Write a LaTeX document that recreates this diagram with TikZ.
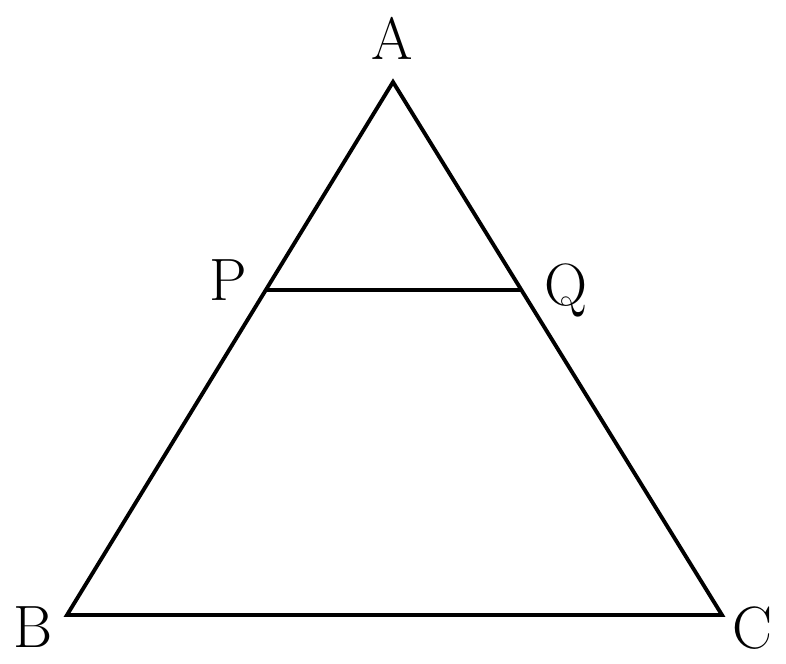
\documentclass[tikz,border=0pt]{standalone}
\usepackage{amsmath}
\usepackage{tikz}
\usetikzlibrary{arrows.meta,positioning,calc}
\tikzset{
  side/.style={line width=1.1pt, line join=miter},
  vlabel/.style={font=\fontsize{17}{20}\selectfont, inner sep=0pt}
}

\begin{document}
\begin{tikzpicture}
  \useasboundingbox (0,0) rectangle (7.86,6.63);

  % Vertices
  \coordinate (A) at (3.93,5.81);
  \coordinate (B) at (0.67,0.48);
  \coordinate (C) at (7.22,0.48);
  \coordinate (P) at ($(A)!0.39!(B)$);
  \coordinate (Q) at ($(A)!0.39!(C)$);

  % Triangle ABC
  \draw[side] (A) -- (B) -- (C) -- cycle;

  % Segment PQ
  \draw[side] (P) -- (Q);

  % Labels
  \node[vlabel] (labA) at (3.92,6.25) {A};
  \node[vlabel] (labP) at (2.28,3.83) {P};
  \node[vlabel, anchor=north] (labQ) at (5.66,4.00) {Q};
  \node[vlabel] (labB) at (0.33,0.36) {B};
  \node[vlabel] (labC) at (7.52,0.35) {C};
\end{tikzpicture}
\end{document}
